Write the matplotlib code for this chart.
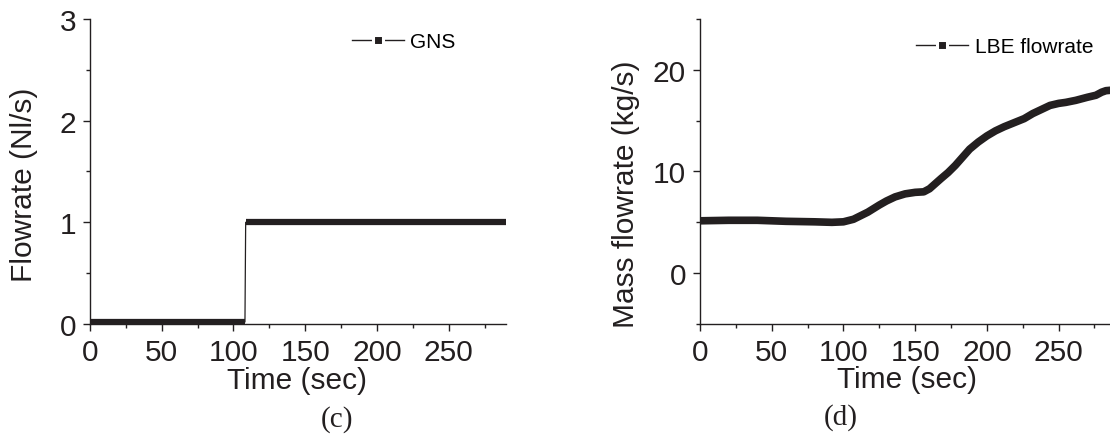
import matplotlib
matplotlib.use("Agg")
import matplotlib.pyplot as plt
from matplotlib.lines import Line2D
from matplotlib.ticker import MultipleLocator

# --- data ---
# (c) GNS flowrate: breakpoints of the step signal
gns_time = [0, 108, 108.5, 290]
gns_flow = [0.02, 0.02, 1.0, 1.0]

# (d) LBE mass flowrate
lbe_time = [0, 20, 40, 60, 80, 92, 100, 107, 117, 125, 130, 136, 143, 150, 156,
            160, 164, 168, 173, 178, 183, 188, 194, 200, 206, 212, 219, 226,
            232, 238, 244, 250, 255, 262, 270, 276, 280, 283, 287]
lbe_flow = [5.15, 5.2, 5.2, 5.1, 5.05, 5.0, 5.05, 5.3, 6.0, 6.7, 7.1, 7.5,
            7.8, 7.95, 8.0, 8.3, 8.8, 9.3, 9.9, 10.6, 11.4, 12.2, 12.9, 13.5,
            14.0, 14.4, 14.8, 15.2, 15.7, 16.1, 16.5, 16.7, 16.8, 17.0, 17.3,
            17.5, 17.8, 17.95, 18.0]

plt.rcParams["font.family"] = ["Liberation Sans", "DejaVu Sans"]
ink = "#231f20"

fig = plt.figure(figsize=(11.1, 4.35), dpi=100)
ax_c = fig.add_axes([0.0811, 0.2529, 0.3748, 0.7011])
ax_d = fig.add_axes([0.6306, 0.2529, 0.3748, 0.7011])

# (c): thick plateaus (dense square markers in the original), thin jump
ax_c.plot(gns_time, gns_flow, color=ink, linewidth=0.9)
ax_c.plot(gns_time[:2], gns_flow[:2], color=ink, linewidth=4.5,
          solid_capstyle="butt")
ax_c.plot(gns_time[2:], gns_flow[2:], color=ink, linewidth=4.5,
          solid_capstyle="butt")
ax_c.set_xlim(0, 290)
ax_c.set_ylim(0, 3)
ax_c.xaxis.set_major_locator(MultipleLocator(50))
ax_c.xaxis.set_minor_locator(MultipleLocator(25))
ax_c.yaxis.set_major_locator(MultipleLocator(1))
ax_c.yaxis.set_minor_locator(MultipleLocator(0.5))

# (d)
ax_d.plot(lbe_time, lbe_flow, color=ink, linewidth=5.5,
          solid_capstyle="butt", solid_joinstyle="round")
ax_d.set_xlim(0, 290)
ax_d.set_ylim(-5, 25)
ax_d.xaxis.set_major_locator(MultipleLocator(50))
ax_d.xaxis.set_minor_locator(MultipleLocator(25))
ax_d.yaxis.set_major_locator(MultipleLocator(10))
ax_d.yaxis.set_minor_locator(MultipleLocator(5))

for ax in (ax_c, ax_d):
    ax.spines["top"].set_visible(False)
    ax.spines["right"].set_visible(False)
    for s in ("left", "bottom"):
        ax.spines[s].set_linewidth(1.0)
        ax.spines[s].set_color(ink)
    ax.tick_params(which="major", direction="out", length=5, width=1,
                   labelsize=21.5, pad=5, colors=ink, labelcolor=ink)
    ax.tick_params(which="minor", direction="out", length=3, width=1,
                   colors=ink)

ax_c.set_xlabel("Time (sec)", fontsize=21.5, va="center", color=ink)
ax_c.xaxis.set_label_coords(0.4976, -0.185)
ax_c.set_ylabel("Flowrate (Nl/s)", fontsize=21.5, va="center", color=ink)
ax_c.yaxis.set_label_coords(-0.158, 0.46)

ax_d.set_xlabel("Time (sec)", fontsize=21.5, va="center", color=ink)
ax_d.xaxis.set_label_coords(0.4976, -0.182)
ax_d.set_ylabel("Mass flowrate (kg/s)", fontsize=21.5, va="center", color=ink)
ax_d.yaxis.set_label_coords(-0.178, 0.43)

# legend handle: line - gap - square - gap - line
handle = Line2D([], [], color=ink, linewidth=1, marker="s", markersize=6.5,
                markerfacecolor=ink, markeredgecolor="white",
                markeredgewidth=2.2)
ax_c.legend([handle], ["GNS"], loc="center left", frameon=False,
            fontsize=15, handlelength=2.5, handletextpad=0.3,
            bbox_to_anchor=(0.61, 0.925), borderaxespad=0)
ax_d.legend([handle], ["LBE flowrate"], loc="center left", frameon=False,
            fontsize=15, handlelength=2.5, handletextpad=0.3,
            bbox_to_anchor=(0.5, 0.91), borderaxespad=0)

fig.text(337 / 1110, 1 - 420 / 435, "(c)", ha="center", va="center",
         fontsize=21, family=["Liberation Serif", "DejaVu Serif"], color=ink)
fig.text(841 / 1110, 1 - 418 / 435, "(d)", ha="center", va="center",
         fontsize=21, family=["Liberation Serif", "DejaVu Serif"], color=ink)

fig.savefig("out.png", dpi=100)
